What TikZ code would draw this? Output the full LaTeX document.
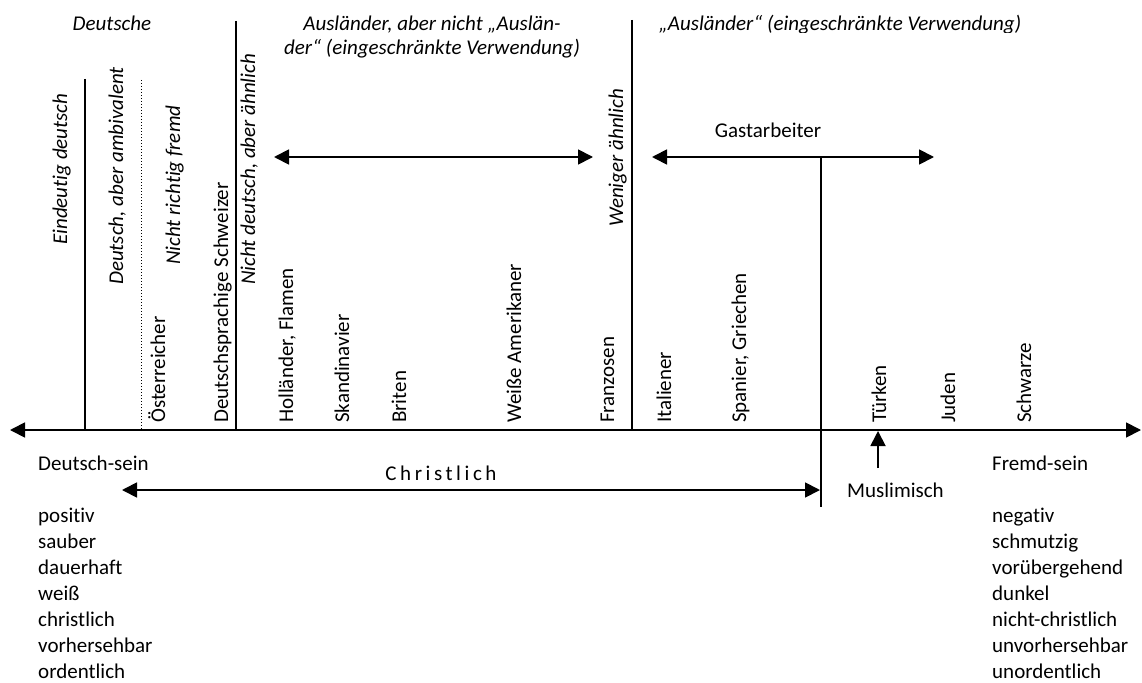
\documentclass[tikz,border=0pt]{standalone}
\usepackage{fontspec}
\setmainfont{Carlito}[Ligatures=NoCommon]
\usetikzlibrary{arrows.meta}
\newcommand\lbfont{\fontsize{21}{26}\selectfont}
\tikzset{
  ln/.style={line width=1.8pt},
  arr/.style={ln, {Triangle[length=15pt,width=15pt]}-{Triangle[length=15pt,width=15pt]}},
  arrone/.style={ln, -{Triangle[length=15pt,width=15pt]}},
  lbl/.style={rotate=90, anchor=base west, inner sep=0pt, font=\lbfont},
  ilbl/.style={lbl, font=\lbfont\itshape},
  txt/.style={inner sep=0pt, anchor=base, font=\lbfont},
  itxt/.style={txt, font=\lbfont\itshape},
  ltxt/.style={inner sep=0pt, anchor=base west, font=\lbfont}
}
\begin{document}
\begin{tikzpicture}[x=1pt,y=-1pt]
\useasboundingbox (0,0) rectangle (1142,682);

% main axis
\coordinate (axL) at (10,430);
\coordinate (axR) at (1141,430);
\draw[arr] (axL) -- (axR);

% vertical separators
\coordinate (v1t) at (85,79);   \coordinate (v1b) at (85,430);
\coordinate (v2t) at (141,80);  \coordinate (v2b) at (141,430);
\coordinate (v3t) at (236,21);  \coordinate (v3b) at (236,430);
\coordinate (v4t) at (632,20);  \coordinate (v4b) at (632,430);
\coordinate (v5t) at (821,157); \coordinate (v5b) at (821,507);
\draw[ln] (v1t) -- (v1b);
\draw[line width=1pt, dotted] (v2t) -- (v2b);
\draw[ln] (v3t) -- (v3b);
\draw[ln] (v4t) -- (v4b);
\draw[ln] (v5t) -- (v5b);

% headings
\node[itxt] (hDeutsche) at (112,31) {Deutsche};
\node[itxt] (hA1) at (432,31) {Ausländer, aber nicht „Auslän-};
\node[itxt] (hA2) at (432,55) {der“ (eingeschränkte Verwendung)};
\begin{scope}
  \clip (640,0) rectangle (1060,32.5);
  \node[itxt] (hA3) at (840,31) {„Ausländer“ (eingeschränkte Verwendung)};
\end{scope}

% rotated labels
\node[ilbl] (eind) at (67,245) {Eindeutig deutsch};
\node[ilbl] (ambi) at (123,285) {Deutsch, aber ambivalent};
\node[ilbl] (nrf) at (180,265) {Nicht richtig fremd};
\node[lbl] (oest) at (165,423) {Österreicher};
\node[lbl] (schw) at (228,423) {Deutschsprachige Schweizer};
\node[ilbl] (nda) at (255,285) {Nicht deutsch, aber ähnlich};
\node[lbl] (holl) at (293,423) {Holländer, Flamen};
\node[lbl] (skan) at (349,423) {Skandinavier};
\node[lbl] (brit) at (406,423) {Briten};
\node[lbl] (amer) at (521,423) {Weiße Amerikaner};
\node[lbl] (fran) at (614,423) {Franzosen};
\node[ilbl] (wen) at (623,227) {Weniger ähnlich};
\node[lbl] (ital) at (671,423) {Italiener};
\node[lbl] (span) at (746,423) {Spanier, Griechen};
\node[lbl] (tuer) at (886,423) {Türken};
\node[lbl] (jud) at (955,423) {Juden};
\node[lbl] (schwa) at (1031,423) {Schwarze};

% upper arrows
\coordinate (a1L) at (274,157); \coordinate (a1R) at (593,157);
\draw[arr] (a1L) -- (a1R);
\coordinate (a2L) at (652,157); \coordinate (a2R) at (934,157);
\draw[arr] (a2L) -- (a2R);
\node[txt] (gast) at (768,138) {Gastarbeiter};

% lower part
\node[ltxt] (dsein) at (38,470) {Deutsch-sein};
\node[ltxt] (fsein) at (992,470) {Fremd-sein};
\node[txt, font=\lbfont\addfontfeature{LetterSpace=17}] (christ) at (441,480) {Christlich};
\coordinate (chL) at (122,490);
\coordinate (chR) at (820,490);
\draw[arr] (chL) -- (chR);
\node[ltxt] (musl) at (847,497) {Muslimisch};
\coordinate (mB) at (878,468);
\coordinate (mT) at (878,431);
\draw[arrone] (mB) -- (mT);

\foreach \w [count=\i] in {positiv,sauber,dauerhaft,weiß,christlich,vorhersehbar,ordentlich}
  \node[ltxt] (L\i) at (38,{522+26*(\i-1)}) {\w};
\foreach \w [count=\i] in {negativ,schmutzig,vorübergehend,dunkel,nicht-christlich,unvorhersehbar,unordentlich}
  \node[ltxt] (R\i) at (992,{522+26*(\i-1)}) {\w};
\end{tikzpicture}
\end{document}
